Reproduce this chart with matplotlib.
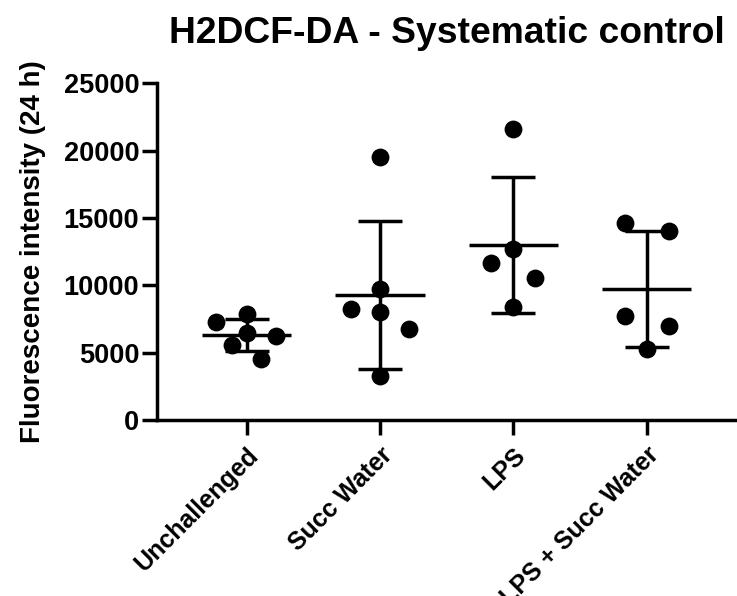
import matplotlib
matplotlib.use("Agg")
import matplotlib.pyplot as plt
import numpy as np

plt.rcParams['font.family'] = ['Liberation Sans', 'DejaVu Sans']
plt.rcParams['font.weight'] = 'bold'

# groups on the x axis
groups = ['Unchallenged', 'Succ Water', 'LPS', 'LPS + Succ Water']

# fluorescence readings per animal (24 h)
unchallenged = [7280, 7890, 6470, 6270, 5550, 4500]
succ_water = [19540, 9735, 8260, 8060, 6785, 3270]
lps = [21630, 12740, 11680, 10570, 8430]
lps_succ = [14650, 14010, 7690, 6950, 5290]

# sideways spread of the dots so they don't sit on top of each other
unchallenged_spread = [-0.23, 0.0, 0.0, 0.22, -0.11, 0.11]
succ_water_spread = [0.0, 0.0, -0.22, 0.0, 0.22, 0.0]
lps_spread = [0.0, 0.0, -0.165, 0.165, 0.0]
lps_succ_spread = [-0.165, 0.165, -0.165, 0.165, 0.0]

y_ticks = [0, 5000, 10000, 15000, 20000, 25000]

values = [unchallenged, succ_water, lps, lps_succ]
spreads = [unchallenged_spread, succ_water_spread, lps_spread, lps_succ_spread]

fig = plt.figure(figsize=(7.37, 5.96), dpi=100)
ax = fig.add_axes([0.2126, 0.2953, 0.7874, 0.5646])

lw = 2.5
for i, (vals, spread) in enumerate(zip(values, spreads)):
    vals = np.array(vals)
    xs = i + np.array(spread)
    ax.scatter(xs, vals, s=165, color='black', zorder=3, linewidths=0)
    mean = vals.mean()
    sd = vals.std(ddof=1)
    # mean line plus SD whiskers
    ax.plot([i - 0.335, i + 0.335], [mean, mean], color='black', lw=lw,
            solid_capstyle='butt', zorder=4)
    ax.errorbar(i, mean, yerr=sd, fmt='none', ecolor='black', elinewidth=lw,
                capsize=16, capthick=lw, zorder=4)

ax.set_xlim(-0.676, 3.677)
ax.set_ylim(0, 25000)
ax.set_yticks(y_ticks)
ax.set_yticklabels([str(t) for t in y_ticks], fontsize=19.5, fontweight='bold')
ax.set_xticks(range(len(groups)))
ax.set_xticklabels(groups, fontsize=18, fontweight='bold', rotation=45,
                   ha='right', va='top', rotation_mode='anchor')

for side in ['top', 'right']:
    ax.spines[side].set_visible(False)
for side in ['left', 'bottom']:
    ax.spines[side].set_linewidth(lw)
ax.tick_params(axis='both', direction='out', length=10.5, width=lw)
ax.tick_params(axis='y', pad=2)
ax.tick_params(axis='x', pad=6)

ax.set_ylabel('Fluorescence intensity (24 h)', fontsize=20, fontweight='bold',
              labelpad=13)
fig.text(0.6063, 0.928, 'H2DCF-DA - Systematic control', fontsize=26.8,
         fontweight='bold', ha='center', va='baseline')

fig.savefig('out.png', dpi=100)
